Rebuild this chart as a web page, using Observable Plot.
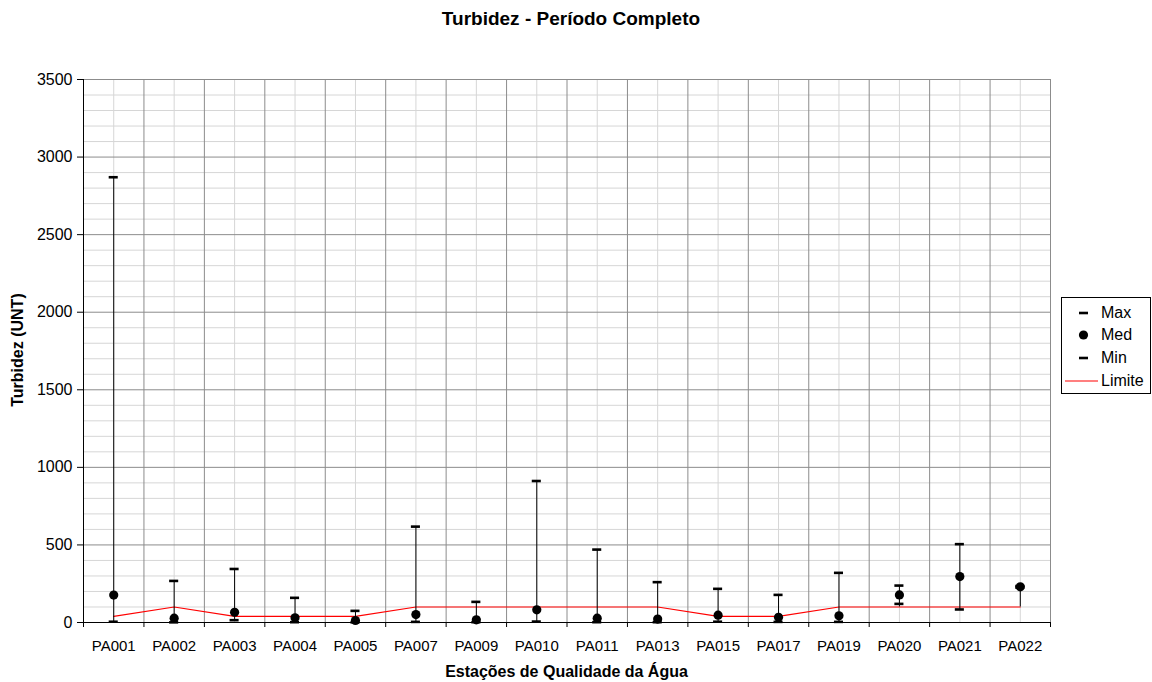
<!DOCTYPE html>
<html>
<head>
<meta charset="utf-8">
<script src="https://cdn.jsdelivr.net/npm/d3@7"></script>
<script src="https://cdn.jsdelivr.net/npm/@observablehq/plot@0.6"></script>
<style>
  html, body { margin: 0; padding: 0; background: #fff; }
  #wrap { position: relative; width: 1152px; height: 682px; font-family: "Liberation Sans", Arial, sans-serif; color: #000; }
  #chart { position: absolute; left: 0; top: 0; }
  .ov { position: absolute; white-space: nowrap; }
  #title { left: 0; width: 1142px; top: 8px; text-align: center; font-weight: bold; font-size: 19px; }
  #xlab { left: 83px; width: 967px; top: 663px; text-align: center; font-weight: bold; font-size: 16px; line-height: 18px; }
  #ylab { left: 18px; top: 350px; transform: translate(-50%, -50%) rotate(-90deg); font-weight: bold; font-size: 16px; }
  #legend { left: 1061px; top: 297px; width: 88px; height: 95px; border: 1px solid #000; background: #fff; }
  .li { position: absolute; left: 0; height: 20px; width: 88px; font-size: 16px; line-height: 20px; }
  .li span { position: absolute; left: 39px; top: 0; }
  .li svg { position: absolute; left: 0; top: 0; }
</style>
</head>
<body>
<div id="wrap">
  <div id="chart"></div>
  <div class="ov" id="title">Turbidez - Período Completo</div>
  <div class="ov" id="xlab">Estações de Qualidade da Água</div>
  <div class="ov" id="ylab">Turbidez (UNT)</div>
  <div class="ov" id="legend"></div>
</div>
<script>
const categories = ["PA001","PA002","PA003","PA004","PA005","PA007","PA009","PA010","PA011","PA013","PA015","PA017","PA019","PA020","PA021","PA022"];
const maxValues = [2870, 268, 345, 159, 75, 618, 133, 912, 470, 260, 217, 178, 320, 238, 505, 235];
const medValues = [177, 28, 66, 30, 13, 51, 17, 82, 28, 22, 47, 34, 43, 178, 296, 230];
const minValues = [5, 1, 15, 2, 1, 4, 2, 6, 2, 2, 5, 4, 4, 120, 84, 225];
const limiteValues = [40, 100, 40, 40, 40, 100, 100, 100, 100, 100, 40, 40, 100, 100, 100, 100];
const yTicks = [0, 500, 1000, 1500, 2000, 2500, 3000, 3500];

const rows = categories.map((c, i) => {
  const vals = [maxValues[i], medValues[i], minValues[i], limiteValues[i]];
  return {i, c, max: maxValues[i], med: medValues[i], min: minValues[i], lim: limiteValues[i],
          lo: Math.min(...vals), hi: Math.max(...vals)};
});
const idx = categories.map((c, i) => i);
const bounds = d3.range(-0.5, categories.length, 1);
const minorY = d3.range(0, 3501, 100).filter(v => v % 500 !== 0);
const w = 0.075;

const chart = Plot.plot({
  width: 1152, height: 682,
  marginLeft: 83, marginRight: 102, marginTop: 79, marginBottom: 60,
  style: {fontFamily: "'Liberation Sans', Arial, sans-serif", background: "transparent", color: "#000"},
  x: {type: "linear", domain: [-0.5, categories.length - 0.5]},
  y: {domain: [0, 3500]},
  marks: [
    Plot.ruleY(minorY, {stroke: "#d6d6d6", strokeWidth: 1}),
    Plot.ruleX(idx, {stroke: "#d6d6d6", strokeWidth: 1}),
    Plot.ruleY(yTicks.filter(v => v > 0), {stroke: "#8c8c8c", strokeWidth: 1}),
    Plot.ruleX(bounds.slice(1), {stroke: "#8c8c8c", strokeWidth: 1}),
    Plot.ruleX([-0.5], {stroke: "#000", strokeWidth: 1}),
    Plot.ruleY([0], {stroke: "#000", strokeWidth: 1}),
    Plot.axisY({ticks: yTicks, tickSize: 6, tickPadding: 5, label: null, fontSize: 16, tickFormat: d => String(d)}),
    Plot.axisX({ticks: bounds, tickSize: 5, tickFormat: () => "", label: null}),
    Plot.axisX({ticks: idx, tickSize: 0, tickPadding: 18, fontSize: 15, tickFormat: i => categories[i], label: null}),
    Plot.line(rows, {x: "i", y: "lim", stroke: "#ff0000", strokeWidth: 1.2}),
    Plot.ruleX(rows, {x: "i", y1: "lo", y2: "hi", stroke: "#000", strokeWidth: 1}),
    Plot.ruleY(rows, {y: "max", x1: d => d.i - w, x2: d => d.i + w, stroke: "#000", strokeWidth: 2.6}),
    Plot.ruleY(rows, {y: "min", x1: d => d.i - w, x2: d => d.i + w, stroke: "#000", strokeWidth: 2.6}),
    Plot.dot(rows, {x: "i", y: "med", r: 4.6, fill: "#000", stroke: "none"})
  ]
});
document.getElementById("chart").appendChild(chart);

// Legend
const legendItems = [
  {name: "Max", kind: "dash"},
  {name: "Med", kind: "dot"},
  {name: "Min", kind: "dash"},
  {name: "Limite", kind: "line"}
];
const legend = document.getElementById("legend");
const tops = [5, 27, 50, 73];
legendItems.forEach((it, k) => {
  const div = document.createElement("div");
  div.className = "li";
  div.style.top = tops[k] + "px";
  let g = "";
  if (it.kind === "dash") g = '<line x1="17" x2="26" y1="10" y2="10" stroke="#000" stroke-width="2.6"/>';
  if (it.kind === "dot") g = '<circle cx="21.5" cy="10" r="4.6" fill="#000"/>';
  if (it.kind === "line") g = '<line x1="3" x2="36" y1="10" y2="10" stroke="#ff0000" stroke-width="1.2"/>';
  div.innerHTML = '<svg width="40" height="20">' + g + '</svg><span>' + it.name + '</span>';
  legend.appendChild(div);
});
</script>
</body>
</html>
